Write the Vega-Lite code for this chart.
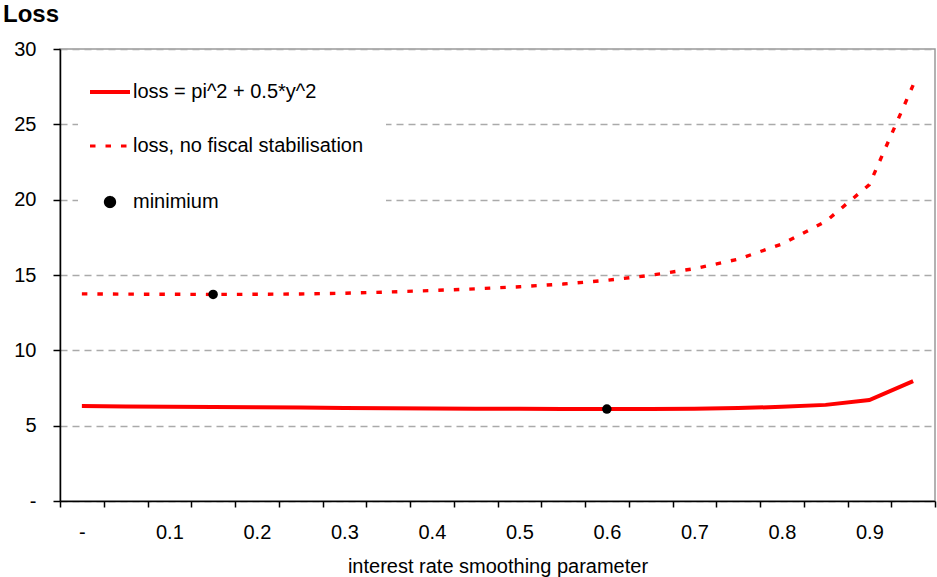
{
  "$schema": "https://vega.github.io/schema/vega-lite/v6.json",
  "autosize": {"type": "none"},
  "padding": {"left": 60, "top": 49, "right": 2, "bottom": 76},
  "width": 875,
  "height": 452,
  "background": "white",
  "title": {"text": "Loss", "anchor": "start", "frame": "group", "dx": -57, "dy": 34, "offset": 27, "baseline": "alphabetic", "font": "Liberation Sans", "fontSize": 24, "fontWeight": "bold", "color": "black"},
  "config": {"font": "Liberation Sans", "view": {"stroke": "#999999", "strokeWidth": 1.5}},
  "datasets": {
    "curves": [
      {"series": "loss = pi^2 + 0.5*y^2", "rho": 0.00, "loss": 6.30},
      {"series": "loss = pi^2 + 0.5*y^2", "rho": 0.05, "loss": 6.28},
      {"series": "loss = pi^2 + 0.5*y^2", "rho": 0.10, "loss": 6.26},
      {"series": "loss = pi^2 + 0.5*y^2", "rho": 0.15, "loss": 6.24},
      {"series": "loss = pi^2 + 0.5*y^2", "rho": 0.20, "loss": 6.22},
      {"series": "loss = pi^2 + 0.5*y^2", "rho": 0.25, "loss": 6.20},
      {"series": "loss = pi^2 + 0.5*y^2", "rho": 0.30, "loss": 6.18},
      {"series": "loss = pi^2 + 0.5*y^2", "rho": 0.35, "loss": 6.16},
      {"series": "loss = pi^2 + 0.5*y^2", "rho": 0.40, "loss": 6.14},
      {"series": "loss = pi^2 + 0.5*y^2", "rho": 0.45, "loss": 6.13},
      {"series": "loss = pi^2 + 0.5*y^2", "rho": 0.50, "loss": 6.12},
      {"series": "loss = pi^2 + 0.5*y^2", "rho": 0.55, "loss": 6.11},
      {"series": "loss = pi^2 + 0.5*y^2", "rho": 0.60, "loss": 6.10},
      {"series": "loss = pi^2 + 0.5*y^2", "rho": 0.65, "loss": 6.11},
      {"series": "loss = pi^2 + 0.5*y^2", "rho": 0.70, "loss": 6.13},
      {"series": "loss = pi^2 + 0.5*y^2", "rho": 0.75, "loss": 6.17},
      {"series": "loss = pi^2 + 0.5*y^2", "rho": 0.80, "loss": 6.25},
      {"series": "loss = pi^2 + 0.5*y^2", "rho": 0.85, "loss": 6.38},
      {"series": "loss = pi^2 + 0.5*y^2", "rho": 0.90, "loss": 6.70},
      {"series": "loss = pi^2 + 0.5*y^2", "rho": 0.95, "loss": 7.96},
      {"series": "loss, no fiscal stabilisation", "rho": 0.00, "loss": 13.75},
      {"series": "loss, no fiscal stabilisation", "rho": 0.05, "loss": 13.73},
      {"series": "loss, no fiscal stabilisation", "rho": 0.10, "loss": 13.72},
      {"series": "loss, no fiscal stabilisation", "rho": 0.15, "loss": 13.71},
      {"series": "loss, no fiscal stabilisation", "rho": 0.20, "loss": 13.72},
      {"series": "loss, no fiscal stabilisation", "rho": 0.25, "loss": 13.74},
      {"series": "loss, no fiscal stabilisation", "rho": 0.30, "loss": 13.79},
      {"series": "loss, no fiscal stabilisation", "rho": 0.35, "loss": 13.87},
      {"series": "loss, no fiscal stabilisation", "rho": 0.40, "loss": 13.97},
      {"series": "loss, no fiscal stabilisation", "rho": 0.45, "loss": 14.08},
      {"series": "loss, no fiscal stabilisation", "rho": 0.50, "loss": 14.22},
      {"series": "loss, no fiscal stabilisation", "rho": 0.55, "loss": 14.40},
      {"series": "loss, no fiscal stabilisation", "rho": 0.60, "loss": 14.65},
      {"series": "loss, no fiscal stabilisation", "rho": 0.65, "loss": 14.98},
      {"series": "loss, no fiscal stabilisation", "rho": 0.70, "loss": 15.42},
      {"series": "loss, no fiscal stabilisation", "rho": 0.75, "loss": 16.05},
      {"series": "loss, no fiscal stabilisation", "rho": 0.80, "loss": 17.05},
      {"series": "loss, no fiscal stabilisation", "rho": 0.85, "loss": 18.55},
      {"series": "loss, no fiscal stabilisation", "rho": 0.90, "loss": 21.00},
      {"series": "loss, no fiscal stabilisation", "rho": 0.95, "loss": 27.60}
    ],
    "minima": [
      {"series": "minimium", "rho": 0.15, "loss": 13.71},
      {"series": "minimium", "rho": 0.60, "loss": 6.10}
    ]
  },
  "encoding": {
    "x": {
      "field": "rho",
      "type": "ordinal",
      "bandPosition": 0.5,
      "scale": {"type": "band", "paddingInner": 0, "paddingOuter": 0},
      "axis": {
        "title": "interest rate smoothing parameter",
        "titleFont": "Liberation Sans",
        "titleFontSize": 20,
        "titleFontWeight": "normal",
        "titleColor": "black",
        "titlePadding": 14,
        "labelExpr": "datum.value == 0 ? '-' : (round(datum.value*20) % 2 == 0 ? format(datum.value, '.1f') : '')",
        "labelAngle": 0,
        "labelFont": "Liberation Sans",
        "labelFontSize": 20,
        "labelColor": "black",
        "labelPadding": 15,
        "labelOverlap": false,
        "tickBand": "extent",
        "tickSize": 6,
        "tickColor": "black",
        "tickWidth": 1.5,
        "domainColor": "black",
        "domainWidth": 1.5,
        "grid": false
      }
    },
    "y": {
      "field": "loss",
      "type": "quantitative",
      "scale": {"domain": [0, 30], "nice": false},
      "axis": {
        "title": null,
        "values": [0, 5, 10, 15, 20, 25, 30],
        "labelExpr": "datum.value == 0 ? '-' : datum.label",
        "labelFont": "Liberation Sans",
        "labelFontSize": 20,
        "labelColor": "black",
        "labelPadding": 17,
        "tickSize": 7,
        "tickColor": "black",
        "tickWidth": 1.5,
        "domainColor": "black",
        "domainWidth": 1.5,
        "grid": true,
        "gridColor": "#aaaaaa",
        "gridDash": [7, 5],
        "gridWidth": 1.5
      }
    },
    "color": {
      "field": "series",
      "type": "nominal",
      "scale": {
        "domain": ["loss = pi^2 + 0.5*y^2", "loss, no fiscal stabilisation", "minimium"],
        "range": ["#ff0000", "#ff0000", "#000000"]
      },
      "legend": {
        "orient": "none",
        "legendX": 18,
        "legendY": 11,
        "title": null,
        "fillColor": "white",
        "padding": 22,
        "labelFont": "Liberation Sans",
        "labelFontSize": 20,
        "labelColor": "black",
        "labelOffset": 13,
        "labelLimit": 500,
        "rowPadding": 34,
        "symbolSize": 1600,
        "symbolType": "stroke",
        "symbolStrokeWidth": 3.5,
        "encode": {
          "symbols": {
            "update": {
              "shape": {"signal": "datum.value === 'minimium' ? 'circle' : 'stroke'"},
              "size": {"signal": "datum.value === 'minimium' ? 72 : 1600"},
              "fill": {"signal": "datum.value === 'minimium' ? '#000000' : 'transparent'"},
              "stroke": {"signal": "datum.value === 'minimium' ? 'transparent' : '#ff0000'"},
              "strokeWidth": {"signal": "datum.value === 'loss, no fiscal stabilisation' ? 3.2 : 3.8"},
              "strokeDash": {"signal": "datum.value === 'loss, no fiscal stabilisation' ? [5.5, 10] : [1, 0]"},
              "opacity": {"value": 1}
            }
          }
        }
      }
    }
  },
  "layer": [
    {
      "data": {"name": "curves"},
      "transform": [{"filter": "datum.series == 'loss = pi^2 + 0.5*y^2'"}],
      "mark": {"type": "line", "strokeWidth": 4}
    },
    {
      "data": {"name": "curves"},
      "transform": [{"filter": "datum.series == 'loss, no fiscal stabilisation'"}],
      "mark": {"type": "line", "strokeWidth": 3.4, "strokeDash": [5.5, 10]}
    },
    {
      "data": {"name": "minima"},
      "mark": {"type": "point", "filled": true, "size": 90, "opacity": 1}
    }
  ]
}
